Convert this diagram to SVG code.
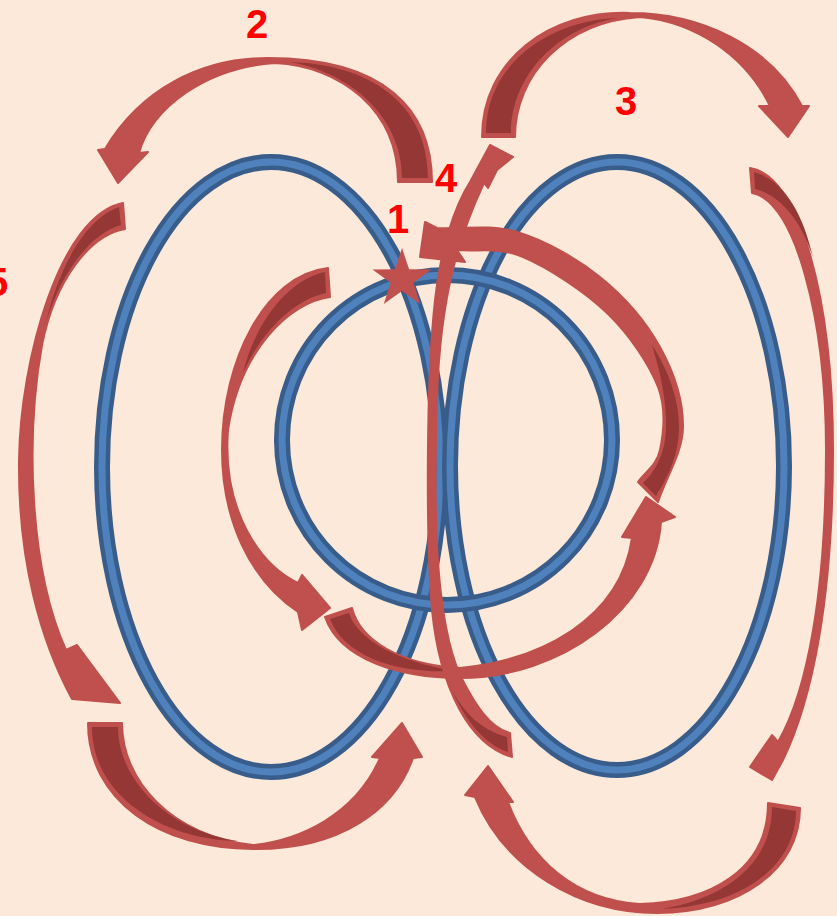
<svg xmlns="http://www.w3.org/2000/svg" width="837" height="916" viewBox="0 0 837 916">
<style>
.ringo{fill:none;stroke:#385D8A;stroke-width:16}
.ringi{fill:none;stroke:#4F81BD;stroke-width:7}
.arr{fill:#C0504D;stroke:#C0504D;stroke-width:2;stroke-linejoin:round}
.back{fill:#953735;stroke:none}
.lbl{font-family:"Liberation Sans",Arial,sans-serif;font-weight:bold;font-size:40px;fill:#FF0000;text-anchor:middle}
</style>
<rect width="837" height="916" fill="#FDE9D9"/>
<g id="rings">
<g id="ring-left"><ellipse class="ringo" cx="271" cy="467" rx="169" ry="305"/><ellipse class="ringi" cx="271" cy="467" rx="169" ry="305"/></g>
<g id="ring-right"><ellipse class="ringo" cx="617" cy="466" rx="167" ry="304"/><ellipse class="ringi" cx="617" cy="466" rx="167" ry="304"/></g>
<g id="ring-center"><circle class="ringo" cx="447" cy="440" r="165"/><circle class="ringi" cx="447" cy="440" r="165"/></g>
</g>
<g id="arrows">
<g id="arrow-2">
<path class="arr" d="M398,182 L432,182 C432,110 385,58 268,58 C200,58 140,90 105,149 L98,150 L118,183 L148,152 L139,153 C152,108 205,68 275,63 C340,66 398,110 398,182 Z"/>
<path class="back" d="M402,178 L428,178 C428,113 382,65 290,62 C348,72 402,115 402,178 Z"/>
</g>
<g id="arrow-3">
<path class="arr" d="M482,137 L515,137 C515,75 565,22 640,17 C695,22 745,55 770,106 L759,106 L788,137 L809,106 L802,106 C770,45 700,13 630,13 C550,10 482,60 482,137 Z"/>
<path class="back" d="M486,133 L511,133 C511,78 555,28 618,18 C552,20 486,62 486,133 Z"/>
</g>
<g id="arrow-5">
<path class="arr" d="M123,203 L125,229 C90,235 55,280 42,345 C25,440 30,570 66,650 L77,645 L120,703 L72,699 C40,640 18,560 19,461 C20,360 60,215 123,203 Z"/>
<path class="back" d="M119,207 L121,225 C92,233 62,270 46,322 C57,275 82,220 119,207 Z"/>
</g>
<g id="arrow-bl">
<path class="arr" d="M88,723 L122,723 C122,780 170,835 253,845 C300,840 355,815 380,758 L372,757 L402,723 L422,757 L413,758 C395,810 340,850 253,849 C160,849 88,800 88,723 Z"/>
<path class="back" d="M92,727 L118,727 C118,778 165,830 238,841 C165,840 92,797 92,727 Z"/>
</g>
<g id="arrow-br">
<path class="arr" d="M768,803 L800,808 C800,870 740,912 657,913 C580,913 505,870 475,797 L465,795 L488,766 L513,802 L508,802 C530,860 575,900 640,904 C710,902 768,870 768,803 Z"/>
<path class="back" d="M772,807 L796,811 C796,866 742,906 662,909 C722,899 772,866 772,807 Z"/>
</g>
<g id="arrow-right">
<path class="arr" d="M750,168 C800,175 833,300 833,450 C833,600 812,700 783,760 L772,780 L750,767 L772,735 L778,742 C808,690 826,590 826,450 C826,320 795,200 752,193 Z"/>
<path class="back" d="M754,172 L755,189 C783,196 803,225 813,258 C803,212 783,180 754,172 Z"/>
</g>
<g id="arrow-inner-left">
<path class="arr" d="M328,268 L330,297 C290,302 240,350 228,430 C222,510 260,565 298,583 L302,575 L330,608 L302,630 L298,612 C250,580 222,520 222,450 C222,360 265,275 328,268 Z"/>
<path class="back" d="M325,272 L326,293 C296,299 262,330 243,373 C256,320 290,279 325,272 Z"/>
</g>
<g id="arrow-inner-bottom">
<path class="arr" d="M325,617 L352,608 C360,640 400,665 460,668 C540,660 620,620 632,538 L622,537 L646,497 L675,517 L661,522 C655,610 560,678 460,678 C400,678 340,660 325,617 Z"/>
<path class="back" d="M330,619 L349,613 C358,641 400,662 455,671 C400,674 345,658 330,619 Z"/>
</g>
<g id="arrow-arc">
<path class="arr" d="M638,482 L658,502 C666,477 682.7,452.8 683,427 C683.3,401.2 673.8,372 660,347 C646.2,322 623.8,296.2 600,277 C576.2,257.8 544.2,240.2 517,232 C489.8,223.8 463.7,229.3 437,228 L425,222 L420,257 L465,262 L457,250 C479,252 498,246.5 523,257 C548,267.5 584.5,291.3 607,313 C629.5,334.7 649.2,364.2 658,387 C666.8,409.8 663.3,434.2 660,450 C656.7,465.8 645.3,471.3 638,482 Z"/>
<path class="back" d="M643,483 L656,496 C670,474 679,452 679,427 C679,402 671,375 652,345 C660,372 667,400 666,430 C665,452 657,470 643,483 Z"/>
</g>
<g id="arrow-4">
<path class="arr" d="M512,757 C470,745 440,690 432,610 C426,540 426,380 435,300 C440,250 455,205 470,182 L490,145 L513,157 L497,170 L488,188 L484,183 C462,230 440,290 437,400 C433,520 436,620 460,675 C475,705 490,728 510,733 Z"/>
<path class="back" d="M507,737 L508,752 C485,745 465,720 452,690 C462,710 480,730 507,737 Z"/>
</g>
<g id="star"><polygon fill="#C0504D" points="402,248 409.1,269.3 431.5,269.4 413.4,282.7 420.2,304.1 402,291 383.8,304.1 390.6,282.7 372.5,269.4 394.9,269.3"/></g>
</g>
<g id="labels">
<text class="lbl" x="257" y="38">2</text>
<text class="lbl" x="626" y="115">3</text>
<text class="lbl" x="446" y="192">4</text>
<text class="lbl" x="398" y="233">1</text>
<text class="lbl" x="-3" y="296">5</text>
</g>
</svg>
